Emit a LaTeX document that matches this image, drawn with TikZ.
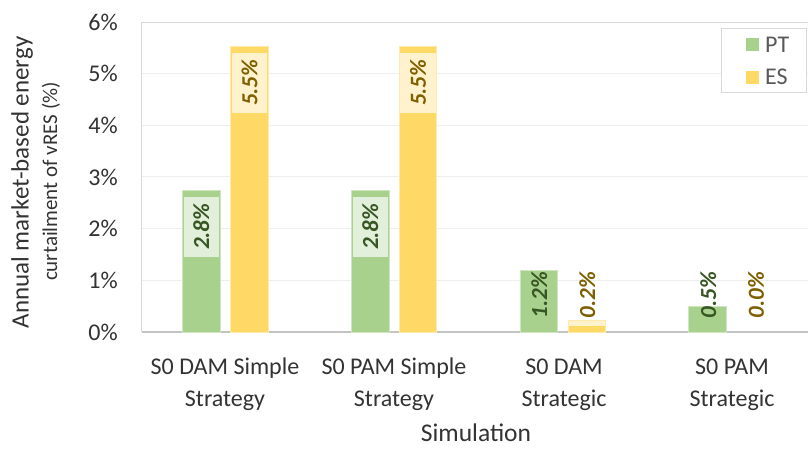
\documentclass[tikz,border=0pt]{standalone}
\usepackage{fontspec}
\setmainfont{Carlito}
\definecolor{ptfill}{HTML}{A9D18E}
\definecolor{esfill}{HTML}{FFD966}
\definecolor{ptbox}{HTML}{E2EFDA}
\definecolor{esbox}{HTML}{FFF2CC}
\definecolor{pttext}{HTML}{375623}
\definecolor{estext}{HTML}{7F6000}
\definecolor{gridc}{HTML}{EEEEEE}
\definecolor{framec}{HTML}{D9D9D9}
\definecolor{axtext}{HTML}{333333}
\definecolor{legtext}{HTML}{595959}
\tikzset{
  bar/.style={inner sep=0pt, outer sep=0pt, minimum width=37.5pt, anchor=south, line width=0.8pt},
  ptbar/.style={bar, fill=ptfill, draw=ptfill!55!white},
  esbar/.style={bar, fill=esfill, draw=esfill!55!white},
  datalbl/.style={rotate=90, inner sep=0pt, font=\fontsize{23}{27}\selectfont\bfseries\itshape},
  ptlbl/.style={datalbl, text=pttext},
  eslbl/.style={datalbl, text=estext},
  ticklbl/.style={anchor=east, inner sep=0pt, text=axtext, font=\fontsize{24}{28}\selectfont},
  catlbl/.style={align=center, inner sep=0pt, text=axtext, font=\fontsize{24}{32}\selectfont},
  legtxt/.style={anchor=west, inner sep=0pt, text=legtext, font=\fontsize{24}{28}\selectfont},
}
\begin{document}
\begin{tikzpicture}[x=1pt, y=-1pt]
\useasboundingbox (0,0) rectangle (808,448);
\fill[white] (0,0) rectangle (808,448);

% gridlines, one every percent (51.67 px per percent, 0% at y=332)
\foreach \p in {1,...,5}
  \draw[gridc, line width=1pt] (141.7,{332-\p*51.67}) -- (810,{332-\p*51.67});
% plot area frame and horizontal axis
\draw[framec, line width=1pt] (141.7,332) -- (141.7,22) -- (810,22);
\draw[framec!90!black, line width=1.3pt] (141.7,332) -- (810,332);

% value axis tick labels
\foreach \p in {0,...,6}
  \node[ticklbl] (t\p) at (118,{332-\p*51.67}) {\p\%};

% bars: S0 DAM Simple Strategy
\node[ptbar, minimum height=141.7pt] (b1pt) at (201.4,332) {};
\node[esbar, minimum height=285.3pt] (b1es) at (249.5,332) {};
% bars: S0 PAM Simple Strategy
\node[ptbar, minimum height=141.7pt] (b2pt) at (370.4,332) {};
\node[esbar, minimum height=285.3pt] (b2es) at (418,332) {};
% bars: S0 DAM Strategic
\node[ptbar, minimum height=62pt] (b3pt) at (538.9,332) {};
\node[esbar, minimum height=11.7pt] (b3es) at (587,332) {};
\fill[esbox] ([xshift=1pt,yshift=-1pt]b3es.north west) rectangle ([xshift=-1pt,yshift=-6pt]b3es.north east);
% bars: S0 PAM Strategic
\node[ptbar, minimum height=25.3pt] (b4pt) at (707.5,332) {};

% data labels
\node[ptlbl, fill=ptbox, minimum width=60pt, minimum height=35.3pt] (l1pt) at (201.4,226.7) {2.8\%};
\node[eslbl, fill=esbox, minimum width=60pt, minimum height=35.3pt] (l1es) at (249.5,82.7) {5.5\%};
\node[ptlbl, fill=ptbox, minimum width=60pt, minimum height=35.3pt] (l2pt) at (370.4,226.7) {2.8\%};
\node[eslbl, fill=esbox, minimum width=60pt, minimum height=35.3pt] (l2es) at (418,82.7) {5.5\%};
\node[ptlbl] (l3pt) at (539.3,295) {1.2\%};
\node[eslbl] (l3es) at (587.3,295) {0.2\%};
\node[ptlbl] (l4pt) at (708.3,295) {0.5\%};
\node[eslbl] (l4es) at (756,295) {0.0\%};

% category labels (base anchor sits on the second line)
\node[catlbl, anchor=base] (c1) at (225,406) {S0 DAM Simple\\Strategy};
\node[catlbl, anchor=base] (c2) at (394,406) {S0 PAM Simple\\Strategy};
\node[catlbl, anchor=base] (c3) at (564,406) {S0 DAM\\Strategic};
\node[catlbl, anchor=base] (c4) at (732,406) {S0 PAM\\Strategic};

% axis titles
\node[inner sep=0pt, text=axtext, font=\fontsize{25.5}{30}\selectfont, anchor=base] (xt) at (476,441.7) {Simulation};
\node[inner sep=0pt, text=axtext, font=\fontsize{25}{30}\selectfont, rotate=90] (yt1) at (22,182.5) {Annual market-based energy};
\node[inner sep=0pt, text=axtext, font=\fontsize{21}{26}\selectfont, rotate=90] (yt2) at (51,181.5) {curtailment of vRES (\%)};

% legend
\node[draw=framec, line width=1pt, fill=white, minimum width=85pt, minimum height=64.4pt, inner sep=0pt] (leg) at (764.2,60.5) {};
\node[fill=ptfill, minimum size=13pt, inner sep=0pt] (kpt) at (752.5,44.5) {};
\node[fill=esfill, minimum size=13pt, inner sep=0pt] (kes) at (752.5,77.2) {};
\node[legtxt] (tpt) at (765,44.5) {PT};
\node[legtxt] (tes) at (765,77.2) {ES};
\end{tikzpicture}
\end{document}
